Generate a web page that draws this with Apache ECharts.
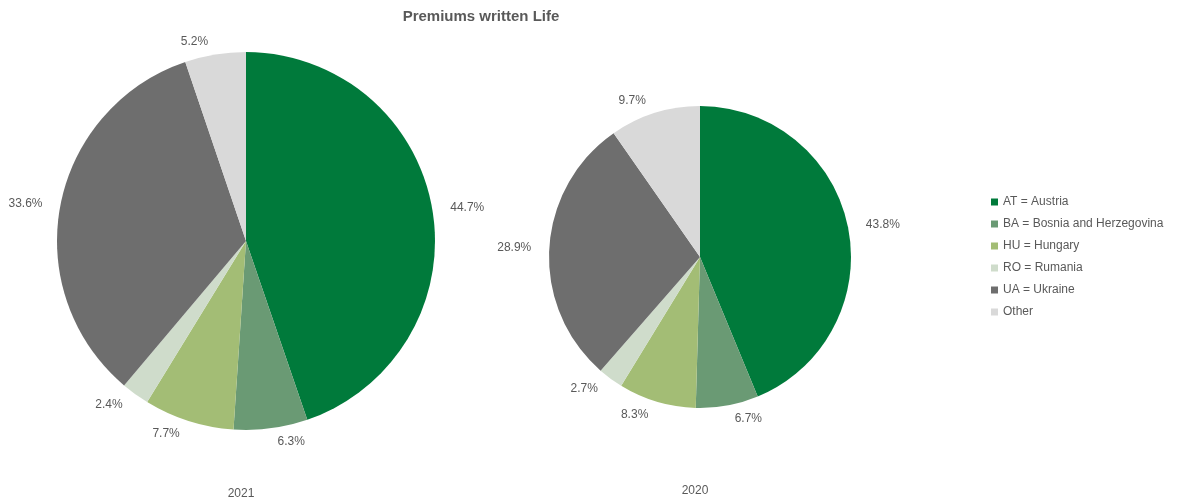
<!DOCTYPE html>
<html>
<head>
<meta charset="utf-8">
<script src="https://cdn.jsdelivr.net/npm/echarts@6/dist/echarts.min.js"></script>
<style>
html,body{margin:0;padding:0;background:#fff;}
#c{width:1184px;height:499px;}
</style>
</head>
<body>
<div id="c"></div>
<script>
const categories = ['AT = Austria','BA = Bosnia and Herzegovina','HU = Hungary','RO = Rumania','UA = Ukraine','Other'];
const values2021 = [44.7, 6.3, 7.7, 2.4, 33.6, 5.2];
const values2020 = [43.8, 6.7, 8.3, 2.7, 28.9, 9.7];
const colors = ['#007a3b','#6a9a74','#a3bd75','#cfdccb','#6e6e6e','#d9d9d9'];
const years = ['2021','2020'];

const font = '"Liberation Sans", Arial, sans-serif';
const chart = echarts.init(document.getElementById('c'));

function mk(vals){ return categories.map((n,i)=>({name:n, value:vals[i]})); }

const labelCfg = {
  show:true, position:'outside', color:'#595959', fontSize:12, fontFamily:font,
  overflow:'none', edgeDistance:0,
  formatter: p => p.value.toFixed(1) + '%'
};

chart.setOption({
  animation:false,
  color: colors,
  title:[
    {text:'Premiums written Life', left:476, top:4, textAlign:'center',
     textStyle:{color:'#595959', fontSize:15, fontWeight:'bold', fontFamily:font}},
    {text:years[0], left:236, top:483, textAlign:'center',
     textStyle:{color:'#595959', fontSize:12, fontWeight:'normal', fontFamily:font}},
    {text:years[1], left:690, top:480, textAlign:'center',
     textStyle:{color:'#595959', fontSize:12, fontWeight:'normal', fontFamily:font}}
  ],
  legend:{
    orient:'vertical', left:986, top:191, itemGap:10,
    itemWidth:7, itemHeight:7, icon:'rect',
    textStyle:{color:'#595959', fontSize:12, fontFamily:font},
    data: categories
  },
  series:[
    {type:'pie', name:years[0], center:[246,241], radius:[0,189], startAngle:90, clockwise:true,
     label:labelCfg, labelLine:{show:false, length:13, length2:0},
     itemStyle:{borderWidth:0}, emphasis:{disabled:true},
     data: mk(values2021)},
    {type:'pie', name:years[1], center:[700,257], radius:[0,151], startAngle:90, clockwise:true,
     label:labelCfg, labelLine:{show:false, length:13, length2:0},
     itemStyle:{borderWidth:0}, emphasis:{disabled:true},
     data: mk(values2020)}
  ]
});
</script>
</body>
</html>
